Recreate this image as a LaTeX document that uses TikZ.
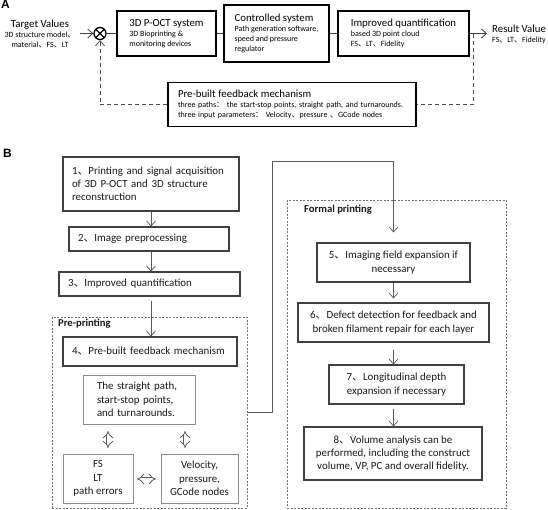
\documentclass[tikz,border=0pt]{standalone}
\usepackage{fontspec}
\setmainfont{Carlito}
\newfontfamily\cjkfont{Noto Sans CJK SC}
\newfontfamily\labfont{Liberation Sans}
\usetikzlibrary{arrows.meta,calc}
\newcommand\dunhao{{\cjkfont 、}}
\newcommand\fwcolon{{\cjkfont ：}}
\newcommand\ttlfont{\fontsize{10.8}{12}\selectfont}
\begin{document}
\begin{tikzpicture}[x=1pt,y=-1pt,
  boxA/.style={draw=black, line width=1.5pt, align=left, inner sep=0pt,
    font=\fontsize{8}{10}\selectfont, text=black},
  plain/.style={inner sep=0pt, font=\fontsize{8}{10}\selectfont, text=black},
  conA/.style={draw=black!75, line width=0.8pt},
  arr/.style={-{Straight Barb[length=5pt,width=9pt]}},
  fbdash/.style={draw=black!70, line width=0.8pt, dash pattern=on 4pt off 3pt},
  boxB/.style={draw=black!75, line width=1.1pt, inner sep=0pt,
    font=\fontsize{10.9}{13.2}\selectfont, text=black!90},
  boxBl/.style={boxB, align=left, inner xsep=9pt},
  boxBc/.style={boxB, align=center},
  boxG/.style={draw=black!45, line width=0.8pt, inner sep=0pt,
    font=\fontsize{10.9}{13.4}\selectfont, text=black!90},
  grp/.style={draw=black!55, line width=0.9pt, dash pattern=on 2pt off 1.5pt, inner sep=0pt},
  grplab/.style={inner sep=0pt, font=\fontsize{10.6}{12}\selectfont\bfseries, text=black!90},
  conB/.style={draw=black!65, line width=0.7pt},
  dbl/.style={draw=black!65, double=white, double distance=3pt, line width=0.8pt, {Implies}-{Implies}},
  panel/.style={inner sep=0pt, font=\labfont\fontsize{12}{14}\selectfont\bfseries}
]
\fill[white] (0,0) rectangle (548,509);
\useasboundingbox (0,0) rectangle (548,509);

% ---------------- Panel A ----------------
\node[panel, anchor=north west] (labA) at (1,0) {A};
\node[plain, align=center] (tv) at (40,34) {{\ttlfont Target Values}\\3D structure model\dunhao\\material\dunhao FS\dunhao LT};
\node[draw, circle, line width=1.3pt, minimum size=12pt, inner sep=0pt,
  path picture={\draw[line width=1.2pt]
    (path picture bounding box.north west) -- (path picture bounding box.south east)
    (path picture bounding box.north east) -- (path picture bounding box.south west);}]
  (x) at (100,33.5) {};
\node[boxA, minimum width=99pt, minimum height=45pt] (a1) at (166.5,33.5)
  {{\ttlfont 3D P-OCT system}\\3D Bioprinting \&\\monitoring devices};
\node[boxA, minimum width=105pt, minimum height=57pt] (a2) at (276.5,33.5)
  {{\ttlfont Controlled system}\\Path generation software,\\speed and pressure\\regulator};
\node[boxA, minimum width=131pt, minimum height=45pt] (a3) at (403.5,33.5)
  {{\ttlfont Improved quantification}\\based 3D point cloud\\FS\dunhao LT\dunhao Fidelity};
\node[plain, align=left, anchor=west] (rv) at (492,34) {{\ttlfont Result Value}\\FS\dunhao LT\dunhao Fidelity};
\node[boxA, minimum width=248pt, minimum height=44pt, text width=228pt] (fb) at (292,104.5)
  {{\ttlfont Pre-built feedback mechanism}\\three paths\fwcolon\ the start-stop points, straight path, and turnarounds.\\three input parameters\fwcolon\ Velocity\dunhao pressure \dunhao GCode nodes};

\coordinate (tin) at (80,33.5);
\coordinate (tout) at (487,33.5);
\coordinate (fbr) at (473,33.5);
\draw[conA, arr] (tin) -- (x.west);
\draw[conA] (x.east) -- (a1.west);
\draw[conA] (a1.east) -- (a2.west);
\draw[conA] (a2.east) -- (a3.west);
\draw[conA, arr] (a3.east) -- (tout);
\draw[fbdash] (fbr) |- (fb.east);
\draw[fbdash, arr] (fb.west) -| (x.south);

% ---------------- Panel B ----------------
\node[panel, anchor=north west] (labB) at (3,149) {B};

\node[grp, minimum width=195pt, minimum height=191pt] (pre) at (149.5,412.5) {};
\node[grp, minimum width=219pt, minimum height=308pt] (formal) at (396.5,354) {};
\node[grplab, anchor=base west] (prelab) at (58,326) {Pre-printing};
\node[grplab, anchor=base west] (formlab) at (304,212) {Formal printing};

\node[boxBl, minimum width=176pt, minimum height=54pt, text width=158pt] (b1) at (151,184)
  {1\dunhao Printing and signal acquisition\\of 3D P-OCT and 3D structure\\reconstruction};
\node[boxBl, minimum width=160pt, minimum height=24pt, text width=142pt] (b2) at (149,239)
  {2\dunhao Image preprocessing};
\node[boxBl, minimum width=181pt, minimum height=24pt, text width=163pt] (b3) at (149.5,284)
  {3\dunhao Improved quantification};
\node[boxBl, minimum width=174pt, minimum height=29pt, text width=156pt] (b4) at (150,351.5)
  {4\dunhao Pre-built feedback mechanism};
\node[boxG, align=left, inner xsep=14pt, text width=84pt, minimum width=112pt, minimum height=49pt] (sp) at (139,399.5)
  {The straight path,\\start-stop points,\\and turnarounds.};
\node[boxG, align=center, minimum width=70pt, minimum height=49pt] (fs) at (98,478.5)
  {FS\\LT\\path errors};
\node[boxG, align=center, minimum width=77pt, minimum height=49pt] (vel) at (199.5,478.5)
  {Velocity,\\pressure,\\GCode nodes};

\node[boxBc, minimum width=153pt, minimum height=39pt] (b5) at (393.5,262.5)
  {5\dunhao Imaging field expansion if\\necessary};
\node[boxBc, minimum width=191pt, minimum height=39pt] (b6) at (393.5,322.5)
  {6\dunhao Defect detection for feedback and\\broken filament repair for each layer};
\node[boxBc, minimum width=135pt, minimum height=39pt] (b7) at (396.5,384.5)
  {7\dunhao Longitudinal depth\\expansion if necessary};
\node[boxBc, minimum width=178pt, minimum height=53pt] (b8) at (393,453.5)
  {8\dunhao Volume analysis can be\\performed, including the construct\\volume, VP, PC and overall fidelity.};

\draw[conB, arr] (b1.south) -- (b2.north -| b1.south);
\draw[conB, arr] (b2.south -| b1.south) -- (b3.north -| b1.south);
\draw[conB, arr, shorten <=4pt] (b3.south -| b1.south) -- (b4.north -| b1.south);

\coordinate (bend) at (272,161);
\draw[conB, arr, shorten >=10pt] (pre.east) -| (bend) -| (b5.north);
\draw[conB, arr, shorten >=4pt] (b5.south) -- (b6.north);
\draw[conB, arr, shorten <=7pt] (b6.south) -- (b7.north -| b6.south);
\draw[conB, arr, shorten <=4pt] (b7.south -| b6.south) -- (b8.north -| b6.south);

\coordinate (v1a) at (108,431);
\coordinate (v1b) at (108,448);
\coordinate (v2a) at (185,431);
\coordinate (v2b) at (185,448);
\coordinate (h1a) at (137,479);
\coordinate (h1b) at (156,479);
\draw[dbl] (v1a) -- (v1b);
\draw[dbl] (v2a) -- (v2b);
\draw[dbl] (h1a) -- (h1b);
\end{tikzpicture}
\end{document}
